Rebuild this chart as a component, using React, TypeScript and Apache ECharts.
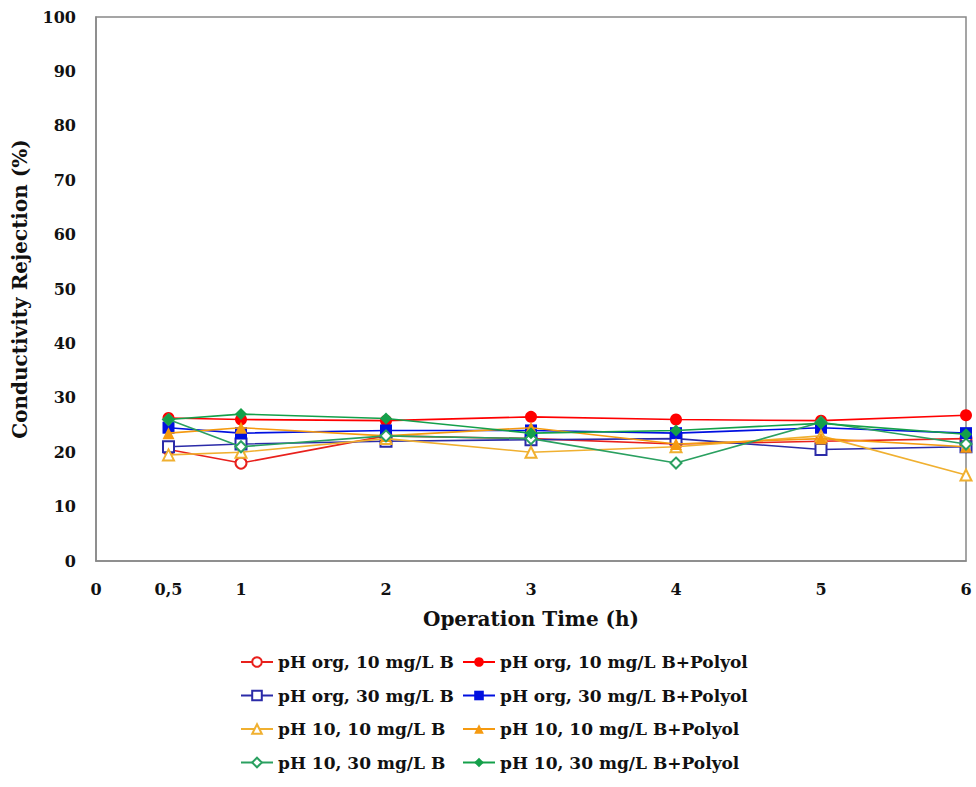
import React, { useEffect, useRef } from "react";
import * as echarts from "echarts";

const times = [0.5, 1, 2, 3, 4, 5, 6];
const xTickLabels: Record<string, string> = { "0": "0", "0.5": "0,5", "1": "1", "2": "2", "3": "3", "4": "4", "5": "5", "6": "6" };

const seriesNames = [
  "pH org, 10 mg/L B",
  "pH org, 10 mg/L B+Polyol",
  "pH org, 30 mg/L B",
  "pH org, 30 mg/L B+Polyol",
  "pH 10, 10 mg/L B",
  "pH 10, 10 mg/L B+Polyol",
  "pH 10, 30 mg/L B",
  "pH 10, 30 mg/L B+Polyol",
];

const orgB10 = [20.5, 18.0, 23.0, 22.5, 21.5, 22.0, 22.5];
const orgB10Polyol = [26.3, 26.0, 25.8, 26.5, 26.0, 25.8, 26.8];
const orgB30 = [21.0, 21.5, 22.0, 22.3, 22.5, 20.5, 21.0];
const orgB30Polyol = [24.5, 23.5, 24.0, 24.0, 23.5, 24.5, 23.5];
const ph10B10 = [19.5, 20.0, 22.5, 20.0, 21.0, 23.0, 15.8];
const ph10B10Polyol = [23.5, 24.5, 23.0, 24.5, 21.5, 22.5, 21.0];
const ph10B30 = [26.0, 21.0, 23.0, 22.5, 18.0, 25.5, 21.5];
const ph10B30Polyol = [26.0, 27.0, 26.2, 23.5, 24.0, 25.3, 23.3];

const seriesValues = [orgB10, orgB10Polyol, orgB30, orgB30Polyol, ph10B10, ph10B10Polyol, ph10B30, ph10B30Polyol];
const seriesColors = ["#e8201c", "#ff0000", "#2b2ba8", "#0010e0", "#f0b030", "#f59a10", "#2aa060", "#14a04a"];
const seriesSymbols = ["emptyCircle", "circle", "emptyRect", "rect", "emptyTriangle", "triangle", "emptyDiamond", "diamond"];

const FONT = "DejaVu Serif";

export default function App() {
  const ref = useRef<HTMLDivElement>(null);
  useEffect(() => {
    if (!ref.current) return;
    const chart = echarts.init(ref.current, null, { renderer: "svg" });
    const series = seriesNames.map((name, i) => ({
      name,
      type: "line",
      data: times.map((t, j) => [t, seriesValues[i][j]]),
      symbol: seriesSymbols[i],
      symbolSize: i % 2 === 0 ? 11 : 12,
      lineStyle: { color: seriesColors[i], width: 1.6 },
      itemStyle: { color: seriesColors[i], borderColor: seriesColors[i], borderWidth: i % 2 === 0 ? 1.5 : 0 },
      z: 2 + i,
    }));
    const legendText = { fontFamily: FONT, fontWeight: "bold", fontSize: 17, color: "#111", lineHeight: 20 };
    chart.setOption({
      animation: false,
      backgroundColor: "#fff",
      grid: { left: 96, right: 10, top: 17, bottom: 226, containLabel: false, show: true, borderColor: "#888", borderWidth: 1.5 },
      xAxis: {
        type: "value",
        min: 0,
        max: 6,
        interval: 0.5,
        name: "Operation Time (h)",
        nameLocation: "middle",
        nameGap: 48,
        nameTextStyle: { fontFamily: FONT, fontWeight: "bold", fontSize: 20, color: "#111" },
        axisLine: { show: true, lineStyle: { color: "#888", width: 1.5 } },
        axisTick: { show: false },
        splitLine: { show: false },
        axisLabel: {
          margin: 20,
          fontFamily: FONT,
          fontWeight: "bold",
          fontSize: 16,
          color: "#111",
          formatter: (v: number) => xTickLabels[String(v)] ?? "",
        },
      },
      yAxis: {
        type: "value",
        min: 0,
        max: 100,
        interval: 10,
        name: "Conductivity Rejection (%)",
        nameLocation: "middle",
        nameGap: 66,
        nameTextStyle: { fontFamily: FONT, fontWeight: "bold", fontSize: 20, color: "#111" },
        axisLine: { show: true, lineStyle: { color: "#888", width: 1.5 } },
        axisTick: { show: false },
        splitLine: { show: false },
        axisLabel: { margin: 20, fontFamily: FONT, fontWeight: "bold", fontSize: 16, color: "#111" },
      },
      legend: [
        {
          orient: "vertical",
          left: 235,
          top: 647,
          itemWidth: 32,
          itemHeight: 12,
          itemGap: 13.5,
          textStyle: legendText,
          data: seriesNames.filter((_, i) => i % 2 === 0),
        },
        {
          orient: "vertical",
          left: 457,
          top: 647,
          itemWidth: 32,
          itemHeight: 12,
          itemGap: 13.5,
          textStyle: legendText,
          data: seriesNames.filter((_, i) => i % 2 === 1),
        },
      ],
      series,
    });
    return () => chart.dispose();
  }, []);
  return <div ref={ref} style={{ position: "fixed", left: 0, top: 0, width: 976, height: 787 }} />;
}
